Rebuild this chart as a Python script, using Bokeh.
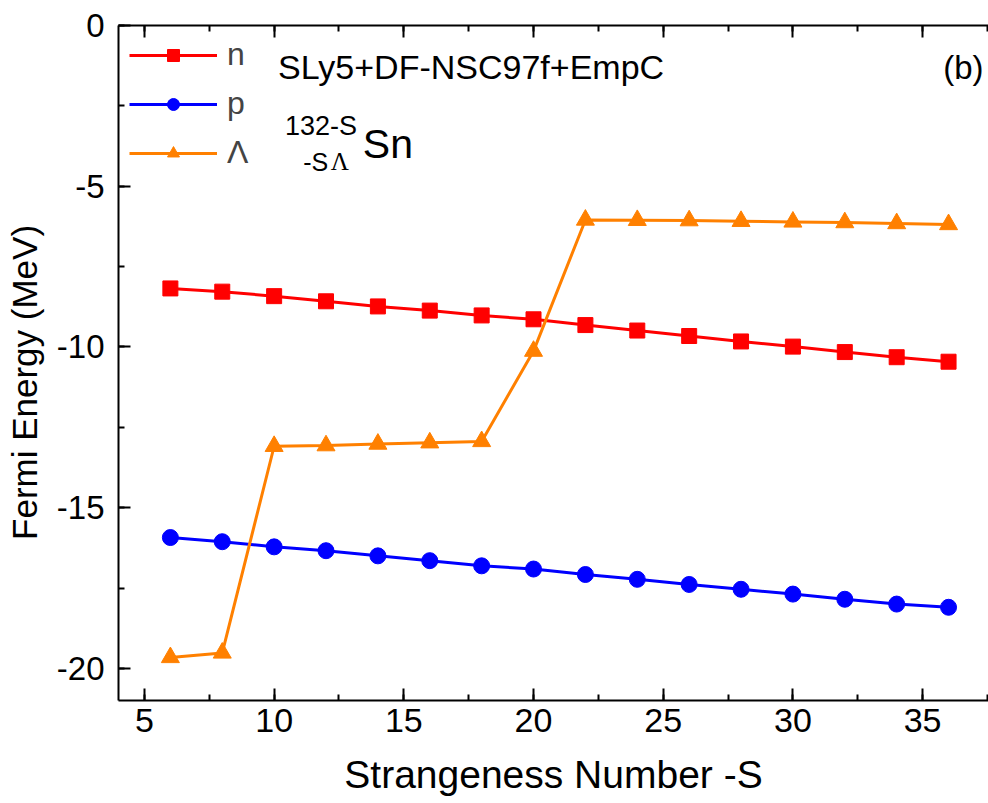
import math
from bokeh.plotting import figure
from bokeh.models import (Range1d, SingleIntervalTicker, LinearAxis, Legend, LegendItem,
                          PrintfTickFormatter)
from bokeh.core.properties import value
from bokeh.embed import file_html
from bokeh.resources import INLINE

S = [6, 8, 10, 12, 14, 16, 18, 20, 22, 24, 26, 28, 30, 32, 34, 36]
n_energy = [-8.18, -8.28, -8.42, -8.58, -8.74, -8.87, -9.02, -9.14,
            -9.32, -9.49, -9.66, -9.83, -9.99, -10.16, -10.32, -10.46]
p_energy = [-15.93, -16.06, -16.22, -16.34, -16.50, -16.65, -16.81, -16.91,
            -17.08, -17.23, -17.39, -17.54, -17.69, -17.85, -18.00, -18.10]
lam_energy = [-19.66, -19.52, -13.09, -13.07, -13.02, -12.98, -12.94, -10.13,
              -6.05, -6.06, -6.07, -6.09, -6.11, -6.13, -6.16, -6.19]

x_ticks_interval = 5
y_ticks_interval = 5

FONT = "Liberation Sans"

p = figure(width=988, height=800, output_backend="svg", toolbar_location=None,
           x_range=Range1d(4.0, 37.54), y_range=Range1d(-21.0, 0.0),
           min_border_left=118, min_border_right=0, min_border_top=25,
           min_border_bottom=100, outline_line_color=None,
           x_axis_location=None, y_axis_location=None)
p.xgrid.visible = False
p.ygrid.visible = False
p.background_fill_color = "white"
p.border_fill_color = "white"


def style_axis(ax, size):
    ax.axis_line_width = 2
    ax.axis_line_color = "black"
    ax.major_tick_in = 12
    ax.major_tick_out = 0
    ax.minor_tick_in = 6
    ax.minor_tick_out = 0
    ax.major_tick_line_width = 2
    ax.minor_tick_line_width = 2
    ax.major_label_text_font = FONT
    ax.major_label_text_font_size = size
    ax.major_label_text_color = "black"
    ax.axis_label_text_font = FONT
    ax.axis_label_text_font_style = "normal"
    ax.axis_label_text_color = "black"
    ax.formatter = PrintfTickFormatter(format="%d")


xb = LinearAxis(ticker=SingleIntervalTicker(interval=x_ticks_interval, num_minor_ticks=2),
                axis_label="Strangeness Number -S")
style_axis(xb, "34px")
xb.axis_label_text_font_size = "39px"
xb.major_label_standoff = 8
xb.axis_label_standoff = 18
p.add_layout(xb, "below")

xt = LinearAxis(ticker=SingleIntervalTicker(interval=x_ticks_interval, num_minor_ticks=2))
style_axis(xt, "1px")
xt.major_label_text_alpha = 0
xt.major_label_text_font_size = "0px"
xt.major_label_standoff = 0
p.add_layout(xt, "above")

yl = LinearAxis(ticker=SingleIntervalTicker(interval=y_ticks_interval, num_minor_ticks=2),
                axis_label="Fermi Energy (MeV)\u00a0\u00a0\u00a0\u00a0")
style_axis(yl, "33px")
yl.axis_label_text_font_size = "35px"
yl.major_label_standoff = 14
yl.axis_label_standoff = 10
p.add_layout(yl, "left")

rn = p.line(S, n_energy, line_color="#FF0000", line_width=3)
mn = p.scatter(S, n_energy, marker="square", size=15, fill_color="#FF0000", line_color="#FF0000")
rp = p.line(S, p_energy, line_color="#0000FF", line_width=3)
mp = p.scatter(S, p_energy, marker="circle", size=16, fill_color="#0000FF", line_color="#0000FF")
rl = p.line(S, lam_energy, line_color="#FF8000", line_width=3)
ml = p.scatter(S, lam_energy, marker="triangle", size=18, fill_color="#FF8000", line_color="#FF8000")

legend = Legend(items=[LegendItem(label="n", renderers=[rn, mn]),
                       LegendItem(label="p", renderers=[rp, mp]),
                       LegendItem(label="\u039b", renderers=[rl, ml])],
                location="top_left", glyph_width=88, glyph_height=30,
                label_height=30, spacing=12, padding=0, margin=11,
                label_standoff=10, label_text_font=FONT,
                label_text_font_size="32px", border_line_color=None,
                background_fill_alpha=0)
p.add_layout(legend, "center")

p.text(x=[10.15], y=[-1.30], text=["SLy5+DF-NSC97f+EmpC"], text_font=value(FONT),
       text_font_size="34px", text_baseline="alphabetic", text_align="left", text_color="black")
p.text(x=[37.35], y=[-1.30], text=["(b)"], text_font=value(FONT),
       text_font_size="33px", text_baseline="alphabetic", text_align="right", text_color="black")
p.text(x=[10.42], y=[-3.14], text=["132-S"], text_font=value(FONT),
       text_font_size="27px", text_baseline="alphabetic", text_align="left", text_color="black")
p.text(x=[11.12], y=[-4.24], text=["-S"], text_font=value(FONT),
       text_font_size="25px", text_baseline="alphabetic", text_align="left", text_color="black")
p.text(x=[12.18], y=[-4.24], text=["\u039b"], text_font=value("Liberation Serif"),
       text_font_size="25px", text_baseline="alphabetic", text_align="left", text_color="black")
p.text(x=[13.42], y=[-3.70], text=["Sn"], text_font=value(FONT),
       text_font_size="41px", text_baseline="alphabetic", text_align="left", text_color="black")

open("out.html", "w").write(file_html(p, INLINE))
